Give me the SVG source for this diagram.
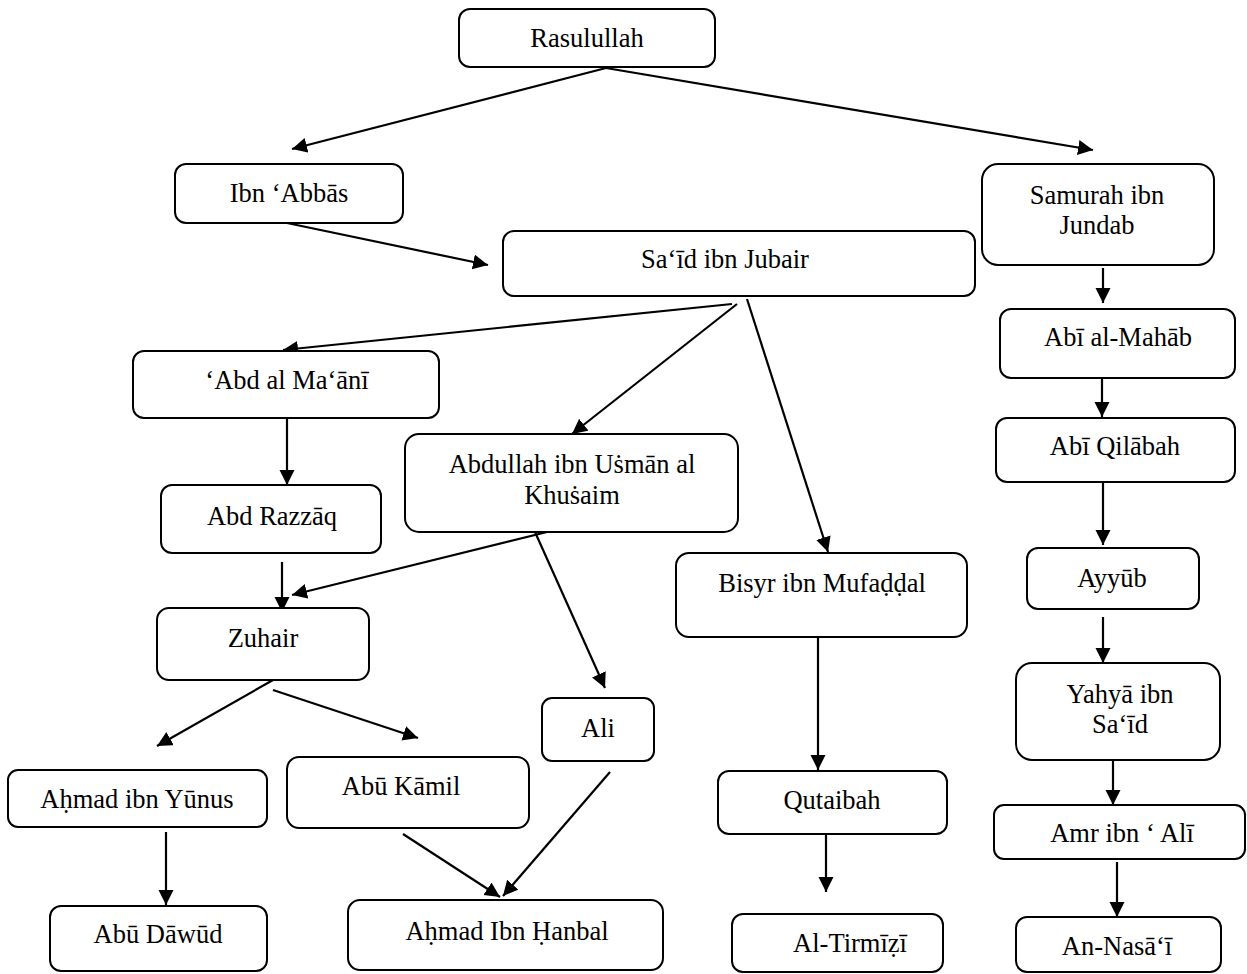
<svg xmlns="http://www.w3.org/2000/svg" width="1247" height="974" viewBox="0 0 1247 974">
<defs>
<style>
.box{fill:#fff;stroke:#000;stroke-width:2}
.t{font-family:"Liberation Serif","Times New Roman",serif;font-size:26.5px;fill:#000;text-anchor:middle}
.c line{stroke:#000;stroke-width:2.2}
</style>
<marker id="ah" markerUnits="userSpaceOnUse" markerWidth="16" markerHeight="16" refX="15" refY="7.5" orient="auto">
<path d="M0,0 L15,7.5 L0,15 z" fill="#000"/>
</marker>
</defs>
<rect width="1247" height="974" fill="#fff"/>
<g class="c">
<line x1="606" y1="68" x2="292" y2="149" marker-end="url(#ah)"/>
<line x1="606" y1="68" x2="1093" y2="150" marker-end="url(#ah)"/>
<line x1="287" y1="223" x2="488" y2="265" marker-end="url(#ah)"/>
<line x1="732" y1="304" x2="283" y2="350" marker-end="url(#ah)"/>
<line x1="737" y1="304" x2="572" y2="434" marker-end="url(#ah)"/>
<line x1="747" y1="299" x2="828" y2="552" marker-end="url(#ah)"/>
<line x1="287" y1="418" x2="287" y2="485" marker-end="url(#ah)"/>
<line x1="282" y1="562" x2="282" y2="612" marker-end="url(#ah)"/>
<line x1="547" y1="532" x2="292" y2="595" marker-end="url(#ah)"/>
<line x1="535" y1="532" x2="605" y2="688" marker-end="url(#ah)"/>
<line x1="273" y1="680" x2="157" y2="746" marker-end="url(#ah)"/>
<line x1="273" y1="690" x2="418" y2="738" marker-end="url(#ah)"/>
<line x1="166" y1="832" x2="166" y2="905" marker-end="url(#ah)"/>
<line x1="403" y1="834" x2="500" y2="897" marker-end="url(#ah)"/>
<line x1="610" y1="772" x2="503" y2="896" marker-end="url(#ah)"/>
<line x1="818" y1="638" x2="818" y2="770" marker-end="url(#ah)"/>
<line x1="826" y1="827" x2="826" y2="892" marker-end="url(#ah)"/>
<line x1="1103" y1="268" x2="1103" y2="303" marker-end="url(#ah)"/>
<line x1="1102" y1="378" x2="1102" y2="417" marker-end="url(#ah)"/>
<line x1="1103" y1="482" x2="1103" y2="545" marker-end="url(#ah)"/>
<line x1="1103" y1="617" x2="1103" y2="663" marker-end="url(#ah)"/>
<line x1="1113" y1="760" x2="1113" y2="805" marker-end="url(#ah)"/>
<line x1="1117" y1="862" x2="1117" y2="917" marker-end="url(#ah)"/>
</g>
<g id="n-rasulullah"><rect class="box" x="459" y="9" width="256" height="58" rx="11"/><text class="t" x="587" y="47">Rasulullah</text></g>
<g id="n-ibnabbas"><rect class="box" x="175" y="164" width="228" height="59" rx="11"/><text class="t" x="289" y="202">Ibn ‘Abbās</text></g>
<g id="n-said"><rect class="box" x="503" y="231" width="472" height="65" rx="11"/><text class="t" x="725" y="268">Sa‘īd ibn Jubair</text></g>
<g id="n-abdalmaani"><rect class="box" x="133" y="351" width="306" height="67" rx="11"/><text class="t" x="287" y="389">‘Abd al Ma‘ānī</text></g>
<g id="n-abdullah"><rect class="box" x="405" y="434" width="333" height="98" rx="14"/><text class="t" x="572" y="473">Abdullah ibn Uṡmān al</text><text class="t" x="572" y="504">Khuṡaim</text></g>
<g id="n-abdrazzaq"><rect class="box" x="161" y="485" width="220" height="68" rx="11"/><text class="t" x="272" y="525">Abd Razzāq</text></g>
<g id="n-bisyr"><rect class="box" x="676" y="553" width="291" height="84" rx="13"/><text class="t" x="822" y="592">Bisyr ibn Mufaḍḍal</text></g>
<g id="n-zuhair"><rect class="box" x="157" y="608" width="212" height="72" rx="12"/><text class="t" x="263" y="647">Zuhair</text></g>
<g id="n-ali"><rect class="box" x="542" y="698" width="112" height="63" rx="10"/><text class="t" x="598" y="737">Ali</text></g>
<g id="n-ahmadyunus"><rect class="box" x="8" y="770" width="259" height="57" rx="10"/><text class="t" x="137" y="808">Aḥmad ibn Yūnus</text></g>
<g id="n-abukamil"><rect class="box" x="287" y="757" width="242" height="71" rx="12"/><text class="t" x="401" y="795">Abū Kāmil</text></g>
<g id="n-qutaibah"><rect class="box" x="718" y="771" width="229" height="63" rx="11"/><text class="t" x="832" y="809">Qutaibah</text></g>
<g id="n-abudawud"><rect class="box" x="50" y="906" width="217" height="65" rx="11"/><text class="t" x="158" y="943">Abū Dāwūd</text></g>
<g id="n-hanbal"><rect class="box" x="348" y="900" width="315" height="70" rx="12"/><text class="t" x="507" y="940">Aḥmad Ibn Ḥanbal</text></g>
<g id="n-tirmizi"><rect class="box" x="732" y="914" width="211" height="58" rx="11"/><text class="t" x="850" y="952">Al-Tirmīẓī</text></g>
<g id="n-samurah"><rect class="box" x="982" y="164" width="232" height="101" rx="16"/><text class="t" x="1097" y="204">Samurah ibn</text><text class="t" x="1097" y="234">Jundab</text></g>
<g id="n-mahab"><rect class="box" x="1000" y="309" width="235" height="69" rx="11"/><text class="t" x="1118" y="346">Abī al-Mahāb</text></g>
<g id="n-qilabah"><rect class="box" x="996" y="418" width="239" height="64" rx="11"/><text class="t" x="1115" y="455">Abī Qilābah</text></g>
<g id="n-ayyub"><rect class="box" x="1027" y="548" width="172" height="61" rx="11"/><text class="t" x="1112" y="587">Ayyūb</text></g>
<g id="n-yahya"><rect class="box" x="1016" y="663" width="204" height="97" rx="16"/><text class="t" x="1120" y="703">Yahyā ibn</text><text class="t" x="1120" y="733">Sa‘īd</text></g>
<g id="n-amr"><rect class="box" x="994" y="805" width="251" height="54" rx="10"/><text class="t" x="1122" y="842">Amr ibn ‘ Alī</text></g>
<g id="n-nasai"><rect class="box" x="1016" y="917" width="205" height="55" rx="11"/><text class="t" x="1117" y="955">An-Nasā‘ī</text></g>
</svg>
